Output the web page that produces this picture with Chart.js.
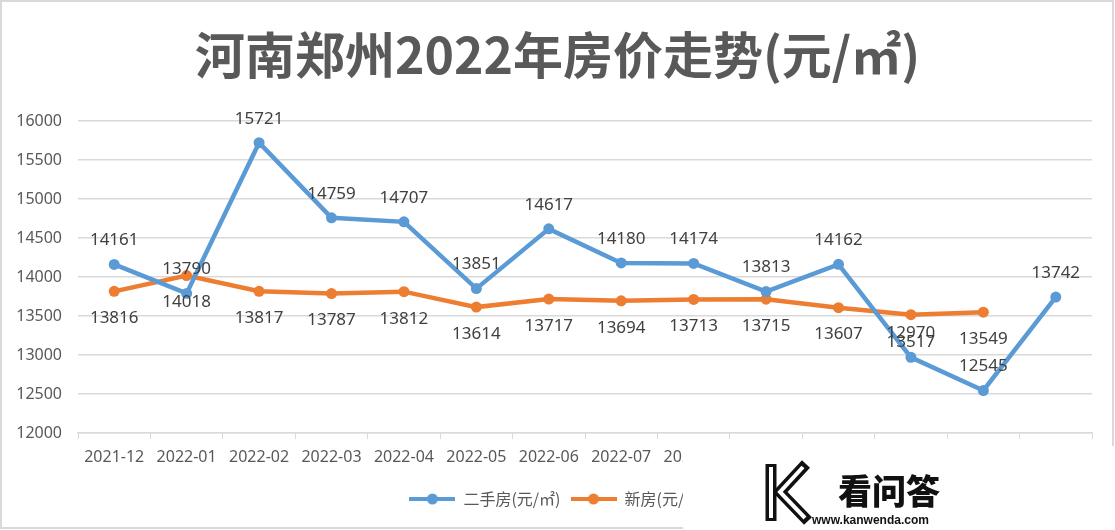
<!DOCTYPE html>
<html lang="zh-CN">
<head>
  <meta charset="UTF-8">
  <title>河南郑州2022年房价走势</title>
  <style>
    html, body { margin: 0; padding: 0; background: #fff; }
    .box { width: 1115px; height: 530px; position: relative; }
  </style>
  <script src="https://cdn.jsdelivr.net/npm/chart.js@4/dist/chart.umd.min.js"></script>
</head>
<body>
  <div class="box">
    <canvas id="myChart" width="1115" height="530"></canvas>
  </div>

  <script>
    // dados
    const meses = ['2021-12', '2022-01', '2022-02', '2022-03', '2022-04', '2022-05', '2022-06',
                   '2022-07', '2022-08', '2022-09', '2022-10', '2022-11', '2022-12', '2023-01'];
    const ershoufang = [14161, 13790, 15721, 14759, 14707, 13851, 14617, 14180, 14174, 13813, 14162, 12970, 12545, 13742];
    const xinfang = [13816, 14018, 13817, 13787, 13812, 13614, 13717, 13694, 13713, 13715, 13607, 13517, 13549, null];
    const yTicks = [12000, 12500, 13000, 13500, 14000, 14500, 15000, 15500, 16000];

    const azul = '#5B9BD5';
    const laranja = '#ED7D31';
    const cinza = '#595959';

    // marcador da legenda (linha + bolinha, estilo Excel)
    function marcador(cor) {
      const c = document.createElement('canvas');
      c.width = 46; c.height = 14;
      const g = c.getContext('2d');
      g.strokeStyle = cor; g.lineWidth = 4;
      g.beginPath(); g.moveTo(0, 7); g.lineTo(46, 7); g.stroke();
      g.fillStyle = cor;
      g.beginPath(); g.arc(23, 7, 5.5, 0, Math.PI * 2); g.fill();
      return c;
    }

    // rótulos de dados: azul acima, laranja abaixo
    const rotulos = {
      id: 'rotulos',
      afterDatasetsDraw(chart) {
        const ctx = chart.ctx;
        ctx.save();
        ctx.font = '17px "Noto Sans"';
        ctx.fillStyle = '#404040';
        ctx.textAlign = 'center';
        ctx.textBaseline = 'middle';
        chart.data.datasets.forEach((ds, i) => {
          const meta = chart.getDatasetMeta(i);
          meta.data.forEach((pt, j) => {
            const v = ds.data[j];
            if (v == null) return;
            const dy = i === 0 ? -24 : 27;
            ctx.fillText(String(v), pt.x, pt.y + dy);
          });
        });
        ctx.restore();
      }
    };

    // moldura cinza e marca d'água
    const moldura = {
      id: 'moldura',
      beforeDraw(chart) {
        const ctx = chart.ctx;
        ctx.save();
        ctx.fillStyle = '#fff';
        ctx.fillRect(0, 0, chart.width, chart.height);
        ctx.strokeStyle = '#d9d9d9';
        ctx.lineWidth = 2;
        ctx.strokeRect(1, 1, chart.width - 3, chart.height - 3);
        ctx.restore();
      },
      afterDraw(chart) {
        const ctx = chart.ctx;
        ctx.save();
        ctx.fillStyle = '#fff';
        ctx.fillRect(683, 446, chart.width - 683, chart.height - 446);
        // logo K
        ctx.strokeStyle = '#111';
        ctx.lineWidth = 11;
        ctx.beginPath(); ctx.moveTo(771, 464); ctx.lineTo(771, 521); ctx.stroke();
        ctx.beginPath(); ctx.moveTo(806, 464); ctx.lineTo(780, 492); ctx.lineTo(808, 521); ctx.stroke();
        ctx.strokeStyle = '#fff';
        ctx.lineWidth = 4;
        ctx.beginPath(); ctx.moveTo(771, 467); ctx.lineTo(771, 518); ctx.stroke();
        ctx.beginPath(); ctx.moveTo(803, 467); ctx.lineTo(780, 492); ctx.lineTo(805, 518); ctx.stroke();
        // texto
        ctx.fillStyle = '#111';
        ctx.textBaseline = 'middle';
        ctx.textAlign = 'left';
        ctx.font = '900 34px "Noto Sans CJK SC"';
        ctx.fillText('看问答', 838, 491);
        ctx.font = 'bold 12px "Liberation Sans"';
        ctx.fillText('www.kanwenda.com', 812, 521);
        ctx.restore();
      }
    };

    const ctx = document.getElementById('myChart').getContext('2d');

    const chart = new Chart(ctx, {
      type: 'line',
      data: {
        labels: meses,
        datasets: [
          {
            label: '二手房(元/㎡)',
            data: ershoufang,
            borderColor: azul,
            backgroundColor: azul,
            borderWidth: 4.5,
            pointRadius: 5.5,
            pointBorderWidth: 0,
            pointStyle: 'circle',
            tension: 0
          },
          {
            label: '新房(元/㎡)',
            data: xinfang,
            borderColor: laranja,
            backgroundColor: laranja,
            borderWidth: 4.5,
            pointRadius: 5.5,
            pointBorderWidth: 0,
            pointStyle: 'circle',
            tension: 0
          }
        ]
      },
      options: {
        responsive: false,
        animation: false,
        layout: { padding: { left: 0, right: 0, top: 0, bottom: 13 } },
        plugins: {
          title: {
            display: true,
            text: '河南郑州2022年房价走势(元/㎡)',
            color: cinza,
            font: { family: '"Noto Sans CJK SC"', size: 50, weight: 'bold' },
            padding: { top: 25, bottom: 36 }
          },
          legend: {
            position: 'bottom',
            labels: {
              color: cinza,
              font: { family: '"Noto Sans CJK SC"', size: 16 },
              usePointStyle: true,
              pointStyleWidth: 46,
              padding: 10,
              generateLabels: (c) => c.data.datasets.map((ds, i) => ({
                text: ds.label,
                fontColor: cinza,
                pointStyle: marcador(ds.borderColor),
                fillStyle: ds.borderColor,
                strokeStyle: ds.borderColor,
                lineWidth: 0,
                hidden: false,
                datasetIndex: i
              }))
            }
          },
          tooltip: { enabled: false }
        },
        scales: {
          x: {
            offset: true,
            afterFit: (s) => { s.height = 48; },
            grid: {
              offset: true,
              drawOnChartArea: false,
              drawTicks: true,
              tickLength: 6,
              color: '#d9d9d9'
            },
            border: { color: '#d9d9d9', width: 1.5 },
            ticks: {
              color: cinza,
              font: { family: '"Noto Sans"', size: 16 },
              padding: 9,
              autoSkip: false,
              maxRotation: 0
            }
          },
          y: {
            min: 12000,
            max: 16000,
            afterFit: (s) => { s.width = 78; },
            afterBuildTicks: (s) => { s.ticks = yTicks.map(v => ({ value: v })); },
            grid: { color: '#d9d9d9', lineWidth: 1.5, drawTicks: false },
            border: { display: false },
            ticks: {
              color: cinza,
              font: { family: '"Noto Sans"', size: 16 },
              padding: 16,
              callback: (v) => String(v)
            }
          },
          // eixo vazio à direita só para reservar a margem
          yDir: {
            position: 'right',
            min: 12000,
            max: 16000,
            afterFit: (s) => { s.width = 23; },
            grid: { display: false },
            border: { display: false },
            ticks: { display: false }
          }
        }
      },
      plugins: [moldura, rotulos]
    });
  </script>
</body>
</html>
